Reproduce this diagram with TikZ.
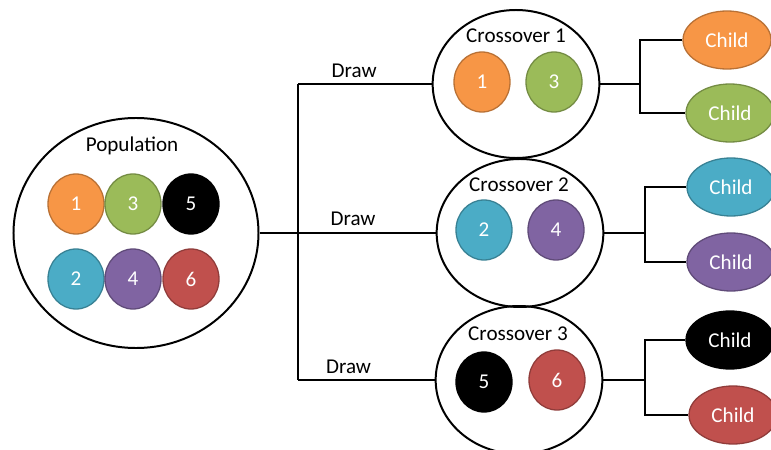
\documentclass[tikz,border=0pt]{standalone}
\usepackage{fontspec}
\setmainfont{Carlito}
\usetikzlibrary{shapes.geometric}
\definecolor{gorange}{HTML}{F79646}
\definecolor{ggreen}{HTML}{9BBB59}
\definecolor{gcyan}{HTML}{4BACC6}
\definecolor{gpurple}{HTML}{8064A2}
\definecolor{gred}{HTML}{C0504D}
\begin{document}
\begin{tikzpicture}[x=0.03cm, y=-0.03cm, font=\fontsize{18}{21}\selectfont, line width=1.7pt] % 1 unit = 1 px
\tikzstyle{pool} = [ellipse, draw, minimum width=7.35cm, minimum height=6.9cm, inner sep=0pt] % population
\tikzstyle{pair} = [ellipse, draw, minimum width=5cm, minimum height=4.44cm, inner sep=0pt] % crossover
\tikzstyle{gene} = [ellipse, minimum width=1.68cm, minimum height=1.8cm, inner sep=0pt, text=white, line width=1.1pt] % parent
\tikzstyle{kid} = [ellipse, minimum width=2.64cm, minimum height=1.74cm, inner sep=0pt, text=white, line width=1.1pt] % child
\useasboundingbox (0,0) rectangle (771,450);
% population
\node[pool] (pop) at (136,233) {};
\node (poptext) at (132,146) {Population};
\node[gene, fill=gorange, draw=gorange!75!black] (p1) at (76,204) {1};
\node[gene, fill=ggreen, draw=ggreen!75!black] (p3) at (133,204) {3};
\node[gene, fill=black, draw=black] (p5) at (191,204) {5};
\node[gene, fill=gcyan, draw=gcyan!75!black] (p2) at (76,279) {2};
\node[gene, fill=gpurple, draw=gpurple!75!black] (p4) at (133,279) {4};
\node[gene, fill=gred, draw=gred!75!black] (p6) at (191,279) {6};
% crossovers
\node[pair] (c1) at (516,84) {};
\node (c1text) at (516,36) {Crossover 1};
\node[gene, fill=gorange, draw=gorange!75!black] (c1a) at (482,82) {1};
\node[gene, fill=ggreen, draw=ggreen!75!black] (c1b) at (554,82) {3};
\node[pair] (c2) at (520,233) {};
\node (c2text) at (519,185) {Crossover 2};
\node[gene, fill=gcyan, draw=gcyan!75!black] (c2a) at (484,230) {2};
\node[gene, fill=gpurple, draw=gpurple!75!black] (c2b) at (556,230) {4};
\node[pair] (c3) at (519,380) {};
\node (c3text) at (518,334) {Crossover 3};
\node[gene, fill=black, draw=black] (c3a) at (484,382) {5};
\node[gene, fill=gred, draw=gred!75!black] (c3b) at (557,380) {6};
% children
\node[kid, fill=gorange, draw=gorange!75!black] (k11) at (727,40) {Child};
\node[kid, fill=ggreen, draw=ggreen!75!black] (k12) at (730,113) {Child};
\node[kid, fill=gcyan, draw=gcyan!75!black] (k21) at (731,187) {Child};
\node[kid, fill=gpurple, draw=gpurple!75!black] (k22) at (731,262) {Child};
\node[kid, fill=black, draw=black] (k31) at (730,340) {Child};
\node[kid, fill=gred, draw=gred!75!black] (k32) at (733,415) {Child};
% draws
\coordinate (fork) at (298,233);
\coordinate (top) at (298,84);
\coordinate (bot) at (298,380);
\draw (top) -- (bot);
\draw (pop) -- (fork) -- node[above, pos=0.4, yshift=2pt] {Draw} (c2);
\draw (top) -- node[above, pos=0.42, yshift=1pt] {Draw} (c1);
\draw (bot) -- node[above, pos=0.37, yshift=1pt] {Draw} (c3);
% offspring
\coordinate (g1) at (640,84);
\coordinate (g2) at (645,233);
\coordinate (g3) at (645,380);
\draw (c1) -- (g1);
\draw (k11) -| (g1) |- (k12);
\draw (c2) -- (g2);
\draw (k21) -| (g2) |- (k22);
\draw (c3) -- (g3);
\draw (k31) -| (g3) |- (k32);
\end{tikzpicture}
\end{document}
